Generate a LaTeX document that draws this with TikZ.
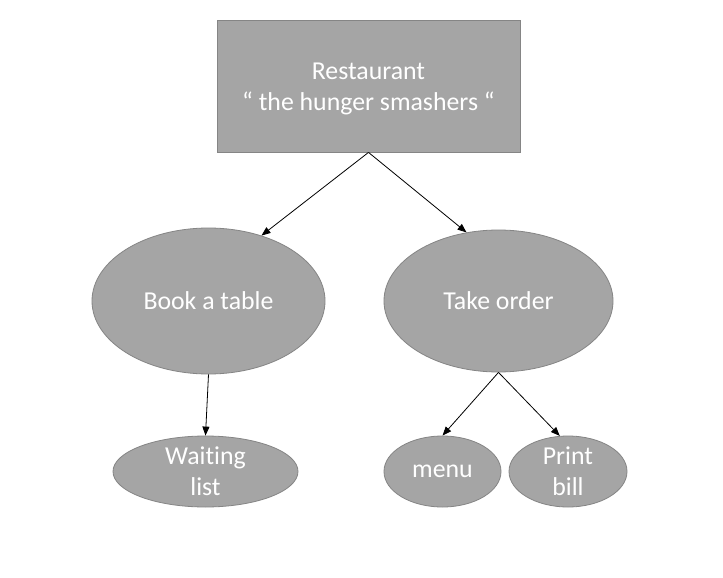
\documentclass[tikz,border=0pt]{standalone}
\usepackage{fontspec}
\setmainfont[Ligatures={NoCommon}]{Carlito}
\usetikzlibrary{shapes.geometric,arrows.meta}
\definecolor{boxfill}{HTML}{A5A5A5}
\definecolor{boxline}{HTML}{858585}
\begin{document}
\begin{tikzpicture}[x=1pt,y=-1pt,
  shapebase/.style={fill=boxfill,draw=boxline,line width=0.8pt,text=white,inner sep=0pt,align=center,
    font=\fontsize{25.8}{31}\selectfont},
  rectbox/.style={shapebase,rectangle,minimum width=303pt,minimum height=132pt},
  ellbox/.style={shapebase,ellipse},
  textonly/.style={text=white,inner sep=0pt,align=center,font=\fontsize{25.8}{31}\selectfont},
  conn/.style={-{Triangle[length=9pt,width=7pt]},line width=0.8pt,black}]
\useasboundingbox[fill=white] (0,0) rectangle (723,578);
\node[rectbox] (rest) at (368.5,86) {};
\node[textonly] (resttext) at ([yshift=-3pt]rest.center) {Restaurant\\“ the hunger smashers “};
\node[ellbox,minimum width=233pt,minimum height=146pt] (book) at (208.5,301) {Book a table};
\node[ellbox,minimum width=229pt,minimum height=142pt] (take) at (498.5,301) {Take order};
\node[ellbox,minimum width=185pt,minimum height=71pt] (wait) at (205.5,471.5) {Waiting\\list};
\node[ellbox,minimum width=117pt,minimum height=71pt] (menu) at (442.5,471.5) {menu};
\node[ellbox,minimum width=118pt,minimum height=71pt] (bill) at (568,471.5) {Print\\bill};
\draw[conn] (rest.south) -- (book.51);
\draw[conn] (rest.south) -- (take.115);
\draw[conn] (book.south) -- (wait.north);
\draw[conn] (take.south) -- (menu.north);
\draw[conn] (take.south) -- (bill.103);
\end{tikzpicture}
\end{document}
